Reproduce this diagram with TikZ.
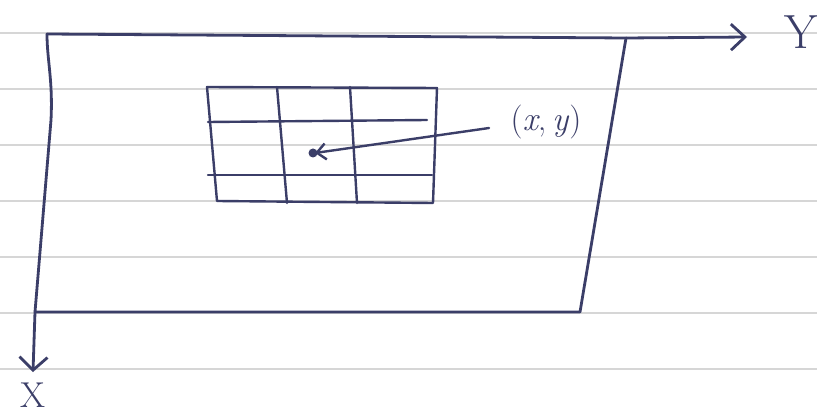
\documentclass[tikz,border=0pt]{standalone}
\usetikzlibrary{arrows.meta}
\definecolor{ink}{HTML}{3B3E68}
\definecolor{rule}{HTML}{D6D6D6}
\tikzset{
  pen/.style={draw=ink,line width=2.8pt,line cap=round,line join=round},
  thinpen/.style={draw=ink,line width=2.4pt,line cap=round,line join=round},
  ruled/.style={draw=rule,line width=1.3pt},
  hand/.style={text=ink,font=\fontsize{48}{54}\selectfont,inner sep=0pt}
}
\begin{document}
\begin{tikzpicture}[x=1pt,y=-1pt]
\useasboundingbox (0,0) rectangle (817,414);
\fill[white] (0,0) rectangle (817,414);
% ruled paper
\foreach \yy in {33,89,145,201,257,313,369}
  \draw[ruled] (0,\yy) -- (817,\yy);
% frame corners
\coordinate (TL) at (47,34);
\coordinate (LM) at (51,120);
\coordinate (TR) at (626,38);
\coordinate (BL) at (35,312);
\coordinate (BR) at (580,312);
\coordinate (Yend) at (747,37);
\coordinate (Xend) at (33,372);
% frame and axes
\draw[pen] (BL) -- (BR) -- (TR);
\draw[pen,-{Straight Barb[length=14pt,width=26pt,line width=2.8pt]}] (TL) -- (TR) -- (Yend);
\draw[pen,-{Straight Barb[length=13pt,width=28pt,line width=2.8pt]}] (TL) .. controls (47,60) and (53,80) .. (LM) -- (BL) -- (Xend);
\node[hand] (Y) at (801,32) {Y};
\node[hand,font=\fontsize{36}{42}\selectfont] (X) at (33,395) {X};
% grid
\coordinate (G1) at (207,87);
\coordinate (G2) at (437,88);
\coordinate (G3) at (433,203);
\coordinate (G4) at (217,201);
\draw[thinpen] (G1) -- (G2) -- (G3) -- (G4) -- cycle;
\draw[thinpen] (277,87) -- (287,203);
\draw[thinpen] (350,87) -- (357,203);
\draw[thinpen] (208,122) -- (427,120);
\draw[thinpen] (208,175) -- (432,175);
% point and label
\fill[ink] (313,153) circle (4.5pt);
\coordinate (P) at (315,153);
\node[hand,font=\fontsize{34}{40}\selectfont] (L) at (546,122) {(\textit{x},\,\textit{y})};
\coordinate (Lstart) at (489,128);
\draw[thinpen,-{Straight Barb[length=9pt,width=16pt,line width=2.4pt]}] (Lstart) -- (P);
\end{tikzpicture}
\end{document}
